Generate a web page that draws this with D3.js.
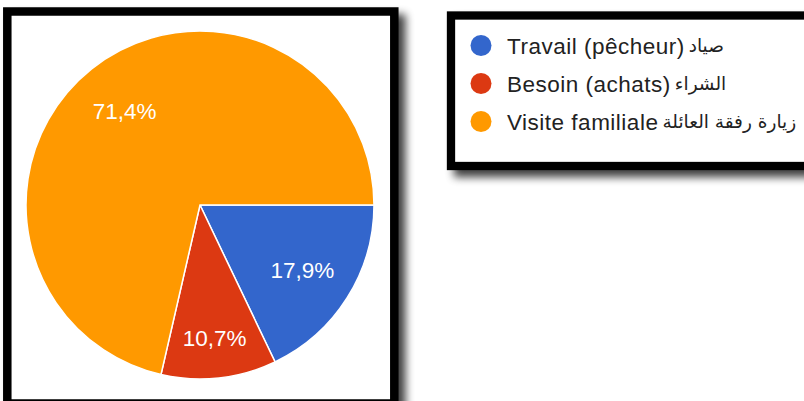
<!DOCTYPE html>
<html>
<head>
<meta charset="utf-8">
<script src="https://cdn.jsdelivr.net/npm/d3@7"></script>
<style>
  html, body { margin: 0; padding: 0; background: #fff; }
  svg { display: block; }
</style>
</head>
<body>
<svg id="chart" width="804" height="401"></svg>
<script>
// Responses by reason for the visit (percent of answers)
const categories = ["Travail (pêcheur)", "Besoin (achats)", "Visite familiale"];
const categoriesAr = ["صياد", "الشراء", "زيارة رفقة العائلة"];
const shares = [17.9, 10.7, 71.4];
const shareLabels = ["17,9%", "10,7%", "71,4%"];
const colors = ["#3366cc", "#dc3912", "#ff9900"];

const svg = d3.select("#chart");

// soft drop shadow used by both framed panels
const defs = svg.append("defs");
const f = defs.append("filter").attr("id", "shadow")
  .attr("x", "-10%").attr("y", "-10%").attr("width", "130%").attr("height", "130%");
f.append("feGaussianBlur").attr("in", "SourceAlpha").attr("stdDeviation", 4).attr("result", "b");
f.append("feOffset").attr("in", "b").attr("dx", 7).attr("dy", 7).attr("result", "o");
f.append("feComponentTransfer").attr("in", "o").attr("result", "s")
  .append("feFuncA").attr("type", "linear").attr("slope", 0.75);
const m = f.append("feMerge");
m.append("feMergeNode").attr("in", "s");
m.append("feMergeNode").attr("in", "SourceGraphic");

// ---- pie panel ----
svg.append("rect")
  .attr("x", 7.3).attr("y", 11.5).attr("width", 387).attr("height", 392)
  .attr("fill", "#fff").attr("stroke", "#000").attr("stroke-width", 8.5)
  .attr("filter", "url(#shadow)");

const cx = 200, cy = 205, radius = 174;
const pie = d3.pie().sort(null)
  .startAngle(Math.PI / 2).endAngle(Math.PI / 2 + 2 * Math.PI)(shares);
const arc = d3.arc().innerRadius(0).outerRadius(radius);

const g = svg.append("g").attr("transform", `translate(${cx},${cy})`);
g.selectAll("path.slice").data(pie).join("path")
  .attr("class", "slice")
  .attr("d", arc)
  .attr("fill", (d, i) => colors[i])
  .attr("stroke", "#fff").attr("stroke-width", 1.5);

// labels sit at ~70% of the radius; narrow slices push theirs outward
g.selectAll("text.pct").data(pie).join("text")
  .attr("class", "pct")
  .each(function (d, i) {
    const span = d.endAngle - d.startAngle;
    const k = span < Math.PI / 4 ? 0.77 : 0.695;
    const a = (d.startAngle + d.endAngle) / 2;
    d3.select(this)
      .attr("x", Math.sin(a) * radius * k)
      .attr("y", -Math.cos(a) * radius * k)
      .text(shareLabels[i]);
  })
  .attr("text-anchor", "middle")
  .attr("dy", "0.36em")
  .attr("fill", "#fff")
  .attr("font-family", "'Liberation Sans', Arial, sans-serif")
  .attr("font-size", 22.5);

// ---- legend panel ----
svg.append("rect")
  .attr("x", 451).attr("y", 15.5).attr("width", 420).attr("height", 150.5)
  .attr("fill", "#fff").attr("stroke", "#000").attr("stroke-width", 8.3)
  .attr("filter", "url(#shadow)");

const rowY = d3.scalePoint().domain(categories).range([45.5, 121.5]);
const items = svg.selectAll("g.item").data(categories).join("g")
  .attr("class", "item")
  .attr("transform", d => `translate(481,${rowY(d)})`);

items.append("circle").attr("r", 10.5).attr("fill", (d, i) => colors[i]);

items.append("text")
  .attr("class", "fr")
  .attr("x", 26).attr("dy", "0.36em")
  .attr("fill", "#222")
  .attr("font-family", "'Liberation Sans', Arial, sans-serif")
  .attr("font-size", 22.5)
  .attr("letter-spacing", 0.5)
  .text(d => d);

items.each(function (d, i) {
  const item = d3.select(this);
  const w = item.select("text.fr").node().getComputedTextLength();
  item.append("text")
    .attr("x", 26 + w + 4).attr("dy", "0.36em")
    .attr("fill", "#222")
    .attr("direction", "rtl")
    .attr("text-anchor", "end")
    .attr("font-family", "'DejaVu Sans', sans-serif")
    .attr("font-size", 18.5)
    .text(categoriesAr[i]);
});
</script>
</body>
</html>
